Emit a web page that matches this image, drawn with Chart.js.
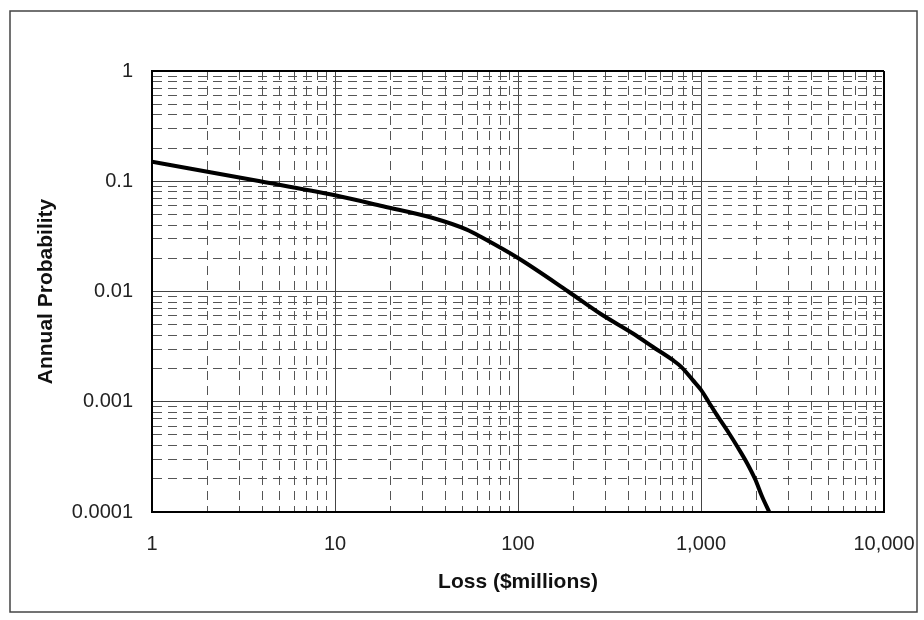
<!DOCTYPE html>
<html><head><meta charset="utf-8">
<script src="https://cdn.jsdelivr.net/npm/chart.js@4"></script>
<style>html,body{margin:0;padding:0;background:#fff}#wrap{width:924px;height:620px}</style>
</head><body><div id="wrap"><canvas id="c" width="924" height="620"></canvas></div>
<script>
// ---- data ----
const lossMillions = [1, 3.9, 10, 18.3, 34.3, 52.5, 64.4, 100, 188, 282, 427, 547, 703, 780, 902, 1000, 1099, 1205, 1422, 1578, 1786, 1983, 2153, 2361];
const annualProbability = [0.150, 0.1, 0.0746, 0.0593, 0.0464, 0.0364, 0.0305, 0.0201, 0.01, 0.00628, 0.00414, 0.00314, 0.00238, 0.00207, 0.00157, 0.00128, 0.001, 0.000784, 0.000518, 0.000393, 0.000277, 0.000196, 0.000139, 0.0001];
const xMajorTicks = [1, 10, 100, 1000, 10000];
const xTickLabels = ['1', '10', '100', '1,000', '10,000'];
const yMajorTicks = [0.0001, 0.001, 0.01, 0.1, 1];
const yTickLabels = ['0.0001', '0.001', '0.01', '0.1', '1'];
const minorMultipliers = [2, 3, 4, 5, 6, 7, 8, 9];
const xTitle = 'Loss ($millions)';
const yTitle = 'Annual Probability';

function tickList(majors) {
  const out = [];
  majors.forEach((m, i) => {
    out.push({ value: m, major: true });
    if (i < majors.length - 1) minorMultipliers.forEach(k => out.push({ value: m * k, major: false }));
  });
  return out;
}
function labelFor(majors, labels, v) {
  const i = majors.findIndex(m => Math.abs(Math.log10(m) - Math.log10(v)) < 1e-6);
  return i >= 0 ? labels[i] : '';
}
const FONT = "'Liberation Sans', Arial, sans-serif";

const framePlugin = {
  id: 'frame',
  beforeDraw(chart) {
    const c = chart.ctx;
    c.save();
    c.fillStyle = '#fff';
    c.fillRect(0, 0, chart.width, chart.height);
    c.strokeStyle = '#444';
    c.lineWidth = 1.5;
    c.strokeRect(10, 11, 907, 601);
    c.restore();
  }
};

function gridColor(maxVal) {
  return ctx => {
    if (!ctx.tick) return '#444';
    if (Math.abs(ctx.tick.value - maxVal) < 1e-9 * maxVal) return '#000';
    return ctx.tick.major ? '#444' : '#555';
  };
}
function gridWidth(maxVal) {
  return ctx => {
    if (!ctx.tick) return 1;
    if (Math.abs(ctx.tick.value - maxVal) < 1e-9 * maxVal) return 2;
    return 1;
  };
}
const dashFn = ctx => (ctx.type === 'tick' && ctx.tick && !ctx.tick.major) ? [9, 6] : [];
function noPad(s) { s.paddingLeft = 0; s.paddingRight = 0; s.paddingTop = 0; s.paddingBottom = 0; }

new Chart(document.getElementById('c'), {
  type: 'line',
  data: {
    datasets: [{
      data: lossMillions.map((x, i) => ({ x: x, y: annualProbability[i] })),
      borderColor: '#000',
      borderWidth: 4,
      pointRadius: 0,
      cubicInterpolationMode: 'monotone',
      fill: false
    }]
  },
  options: {
    responsive: false,
    animation: false,
    plugins: { legend: { display: false }, tooltip: { enabled: false } },
    layout: { padding: { left: 11, top: 71, right: 40, bottom: 0 } },
    scales: {
      x: {
        type: 'logarithmic',
        min: 1, max: 10000,
        afterBuildTicks: s => { s.ticks = tickList(xMajorTicks); },
        afterFit: s => { s.height = 108; noPad(s); },
        ticks: {
          autoSkip: false, maxRotation: 0, padding: 20,
          color: '#222', font: { family: FONT, size: 20 },
          callback: v => labelFor(xMajorTicks, xTickLabels, v)
        },
        grid: { drawTicks: false, color: gridColor(10000), lineWidth: gridWidth(10000) },
        border: { display: true, color: '#000', width: 2, dash: dashFn },
        title: { display: true, text: xTitle, color: '#111', font: { family: FONT, size: 21, weight: 'bold' }, padding: { top: 0, bottom: 25 } }
      },
      y: {
        type: 'logarithmic',
        min: 0.0001, max: 1,
        afterBuildTicks: s => { s.ticks = tickList(yMajorTicks); },
        afterFit: s => { s.width = 141; noPad(s); },
        ticks: {
          autoSkip: false, padding: 19,
          color: '#222', font: { family: FONT, size: 20 },
          callback: v => labelFor(yMajorTicks, yTickLabels, v)
        },
        grid: { drawTicks: false, color: gridColor(1), lineWidth: gridWidth(1) },
        border: { display: true, color: '#000', width: 2, dash: dashFn },
        title: { display: true, text: yTitle, color: '#111', font: { family: FONT, size: 21, weight: 'bold' }, padding: { top: 23, bottom: 0 } }
      }
    }
  },
  plugins: [framePlugin]
});
</script>
</body></html>
